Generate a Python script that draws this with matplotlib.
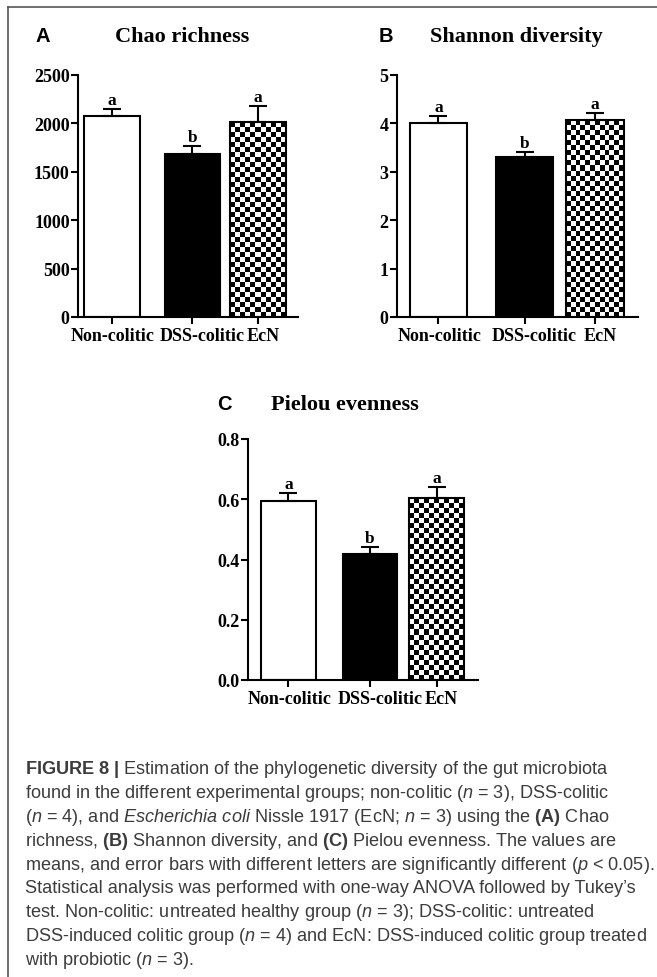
import numpy as np
import matplotlib
matplotlib.use("Agg")
import matplotlib.pyplot as plt
import matplotlib.transforms as mtrans
from matplotlib.lines import Line2D

# data
groups = ["Non-colitic", "DSS-colitic", "EcN"]
letters = ["a", "b", "a"]

chao_mean = [2080, 1685, 2010]
chao_err = [72, 80, 165]
shannon_mean = [4.01, 3.30, 4.07]
shannon_err = [0.15, 0.11, 0.15]
pielou_mean = [0.594, 0.418, 0.604]
pielou_err = [0.026, 0.024, 0.037]

chao_ticks = [0, 500, 1000, 1500, 2000, 2500]
shannon_ticks = [0, 1, 2, 3, 4, 5]
pielou_ticks = [0.0, 0.2, 0.4, 0.6, 0.8]

caption = [
    r"$\mathbf{FIGURE\ 8\ |}$ Estimation of the phylogenetic diversity of the gut microbiota",
    r"found in the different experimental groups; non-colitic ($\mathit{n}$ = 3), DSS-colitic",
    r"($\mathit{n}$ = 4), and $\mathit{Escherichia\ coli}$ Nissle 1917 (EcN; $\mathit{n}$ = 3) using the $\mathbf{(A)}$ Chao",
    r"richness, $\mathbf{(B)}$ Shannon diversity, and $\mathbf{(C)}$ Pielou evenness. The values are",
    r"means, and error bars with different letters are significantly different ($\mathit{p}$ < 0.05).",
    "Statistical analysis was performed with one-way ANOVA followed by Tukey\u2019s",
    r"test. Non-colitic: untreated healthy group ($\mathit{n}$ = 3); DSS-colitic: untreated",
    r"DSS-induced colitic group ($\mathit{n}$ = 4) and EcN: DSS-induced colitic group treated",
    r"with probiotic ($\mathit{n}$ = 3).",
]

plt.rcParams["font.family"] = "Liberation Serif"
plt.rcParams["font.weight"] = "bold"
plt.rcParams["mathtext.fontset"] = "custom"
plt.rcParams["mathtext.rm"] = "Liberation Sans:weight=normal"
plt.rcParams["mathtext.it"] = "Liberation Sans:style=italic:weight=normal"
plt.rcParams["mathtext.bf"] = "Liberation Sans:weight=bold"

W, H = 657, 978
fig = plt.figure(figsize=(W / 100, H / 100), dpi=100)

# GraphPad-style uneven bar spacing and label shifts (px)
xpos = np.array([0, 1.1, 2])
label_shift = [1, 10, 5]


def px_axes(left, right, bottom, top):
    return fig.add_axes([left / W, 1 - bottom / H, (right - left) / W, (bottom - top) / H])


def checker(ax, x, w, h, cell=5):
    p0 = ax.transData.transform((x - w / 2, 0))
    p1 = ax.transData.transform((x + w / 2, h))
    nx = max(1, int(round((p1[0] - p0[0]) / cell)))
    ny = max(1, int(round((p1[1] - p0[1]) / cell)))
    board = np.indices((ny, nx)).sum(axis=0) % 2
    ax.imshow(board, cmap="gray", extent=(x - w / 2, x + w / 2, 0, h), aspect="auto",
              interpolation="nearest", origin="lower", zorder=1)


def panel(ax, means, errs, ticks, fmt, xlim, width):
    ymax = ticks[-1]
    ax.set_xlim(*xlim)
    ax.set_ylim(0, ymax)
    ax.bar(xpos, means, width, color=["white", "black", "none"], edgecolor="black",
           linewidth=1.5, zorder=2)
    checker(ax, xpos[2], width, means[2])
    ax.errorbar(xpos, means, yerr=[np.zeros(len(errs)), errs], fmt="none", ecolor="black",
                elinewidth=1.5, capsize=6.5, capthick=1.5, zorder=3)
    for xi, m, e, l in zip(xpos, means, errs, letters):
        ax.text(xi, m + e + ymax * 0.004, l, ha="center", va="bottom", fontsize=12.5,
                fontweight="bold")
    ax.set_xlim(*xlim)
    ax.set_ylim(0, ymax)
    ax.set_yticks(ticks)
    ax.set_yticklabels([fmt.format(t) for t in ticks])
    ax.set_xticks(xpos)
    ax.set_xticklabels(groups)
    for s in ["top", "right"]:
        ax.spines[s].set_visible(False)
    for s in ["left", "bottom"]:
        ax.spines[s].set_linewidth(1.5)
    ax.tick_params(direction="out", length=5, width=1.5, labelsize=13, pad=1)
    ax.tick_params(axis="x", pad=2.5)
    for t in ax.get_xticklabels() + ax.get_yticklabels():
        t.set_fontweight("bold")
    for t, dx in zip(ax.get_xticklabels(), label_shift):
        t.set_transform(t.get_transform() + mtrans.ScaledTranslation(dx / 100, 0, fig.dpi_scale_trans))


axA = px_axes(78, 298, 318, 76)
panel(axA, chao_mean, chao_err, chao_ticks, "{:d}", (-0.466, 2.548), 0.76)
axB = px_axes(397, 638, 318, 76)
panel(axB, shannon_mean, shannon_err, shannon_ticks, "{:d}", (-0.53, 2.55), 0.74)
axC = px_axes(248, 478, 681, 440)
panel(axC, pielou_mean, pielou_err, pielou_ticks, "{:.1f}", (-0.547, 2.56), 0.74)

# panel letters and titles
for lx, ly, lab in [(43, 37, "A"), (386, 37, "B"), (224, 405, "C")]:
    fig.text(lx / W, 1 - ly / H, lab, ha="center", va="center", fontsize=14.5,
             fontweight="bold", family="Liberation Sans")
for tx, ty, tit in [(182, 37, "Chao richness"), (516, 37, "Shannon diversity"),
                    (345, 405, "Pielou evenness")]:
    fig.text(tx / W, 1 - ty / H, tit, ha="center", va="center", fontsize=16,
             fontweight="bold")

# caption
for i, line in enumerate(caption):
    fig.text(25 / W, 1 - (774 + i * 23.9) / H, line, ha="left", va="baseline",
             fontsize=13.05, fontweight="normal", family="Liberation Sans", color="#3c3c3c")

# open frame around the figure
fig.add_artist(Line2D([8 / W, 8 / W], [0, 1 - 8 / H], color="#555555", lw=1.2))
fig.add_artist(Line2D([8 / W, 1], [1 - 8 / H, 1 - 8 / H], color="#555555", lw=1.2))

fig.savefig("out.png", dpi=100)
